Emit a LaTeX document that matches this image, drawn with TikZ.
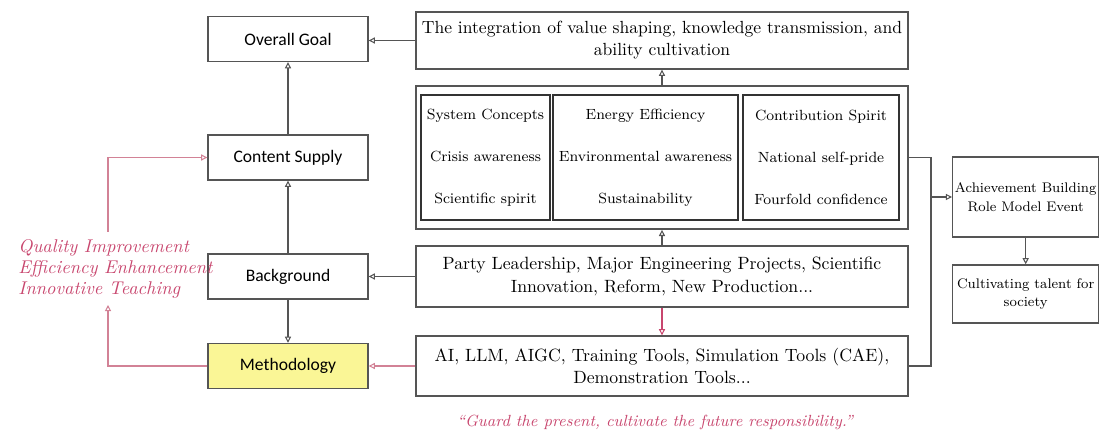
\documentclass[tikz,border=0pt]{standalone}
\usepackage{fontspec}
\newfontfamily\labelfont{Carlito}
\usetikzlibrary{arrows.meta}

\definecolor{linegray}{RGB}{85,85,85}
\definecolor{pinkred}{RGB}{200,70,110}
\definecolor{pinkline}{RGB}{210,130,150}
\definecolor{hlyellow}{RGB}{250,246,150}

\begin{document}
\begin{tikzpicture}[x=0.02cm, y=-0.02cm, >={Triangle[open,length=3.5pt,width=3.5pt]},
	line width=0.6pt, draw=linegray,
	box/.style={draw=linegray, line width=0.8pt, inner sep=2pt, align=center, font=\fontsize{10}{12.5}\selectfont},
	sansbox/.style={box, minimum width=3.2cm, minimum height=0.9cm, font=\labelfont\fontsize{10}{12}\selectfont},
	widebox/.style={box, minimum width=9.84cm},
	sidebox/.style={box, anchor=west, minimum width=2.92cm, inner xsep=0.5pt, font=\fontsize{7.9}{10.5}\selectfont},
	innerbox/.style={draw=black!80, line width=1pt, minimum height=2.5cm, align=center, font=\fontsize{8.4}{24}\selectfont},
	note/.style={text=pinkred, align=left, font=\itshape\fontsize{10.5}{12}\selectfont}]
	\useasboundingbox (0,0) rectangle (1100,435);

	% Nodes {goal, supply, backgr, method}
	\node [sansbox]                 (goal)    at (288,39)     {Overall Goal};
	\node [sansbox]                 (supply)  at (288,157.5)  {Content Supply};
	\node [sansbox]                 (backgr)  at (288,276.5)  {Background};
	\node [sansbox, fill=hlyellow]  (method)  at (288,366)    {Methodology};

	% Nodes {integ, values, party, tools}
	\node [widebox, minimum height=1.14cm]                (integ)   at (662,40.5)  {The integration of value shaping, knowledge transmission, and\\ability cultivation};
	\node [widebox, minimum height=2.86cm, line width=1pt] (values) at (662,157.5) {};
	\node [innerbox, minimum width=2.5cm]   (sys)     at (485.5,157.5) {System Concepts\\Crisis awareness\\Scientific spirit};
	\node [innerbox, minimum width=3.58cm]  (energy)  at (645.5,157.5) {Energy Efficiency\\Environmental awareness\\Sustainability};
	\node [innerbox, minimum width=3.12cm]  (spirit)  at (821,157.5)   {Contribution Spirit\\National self-pride\\Fourfold confidence};
	\node [widebox, minimum height=1.22cm, font=\fontsize{10.1}{13}\selectfont] (party) at (662,276.5) {Party Leadership, Major Engineering Projects, Scientific\\Innovation, Reform, New Production...};
	\node [widebox, minimum height=1.2cm, font=\fontsize{10.1}{13}\selectfont]  (tools) at (662,366)   {AI, LLM, AIGC, Training Tools, Simulation Tools (CAE),\\Demonstration Tools...};

	% Nodes {achieve, talent, aims, motto}
	\node [sidebox, minimum height=1.6cm]  (achieve) at (952,197) {Achievement Building\\Role Model Event};
	\node [sidebox, minimum height=1.16cm] (talent)  at (952,294) {Cultivating talent for\\society};
	\node [note, anchor=west] (aims)  at (12,269)  {Quality Improvement\\Efficiency Enhancement\\Innovative Teaching};
	\node [note, font=\itshape\fontsize{9.2}{11}\selectfont] (motto) at (655,422) {``Guard the present, cultivate the future responsibility.''};

	\coordinate (split)   at (931,197);
	\coordinate (aimsbot) at (108,305);
	\coordinate (aimstop) at (108,232);

	% Paths
	\draw [->] (integ.west) -- (goal.east |- integ.west);
	\draw [->] (supply) -- (goal);
	\draw [->] (backgr) -- (supply);
	\draw [->] (backgr) -- (method);
	\draw [->] (party) -- (backgr);
	\draw [->, draw=pinkline] (tools) -- (method);
	\draw [->] (values) -- (integ);
	\draw [->] (party) -- (values);
	\draw [->, draw=pinkred] (party) -- (tools);
	\draw (values.east) -| (split) |- (tools.east);
	\draw [->] (split) -- (achieve);
	\draw [->] (achieve.south) -- (talent.north);
	\draw [->, draw=pinkline] (method.west) -| (aimsbot);
	\draw [->, draw=pinkline] (aimstop) |- (supply.west);
\end{tikzpicture}
\end{document}
